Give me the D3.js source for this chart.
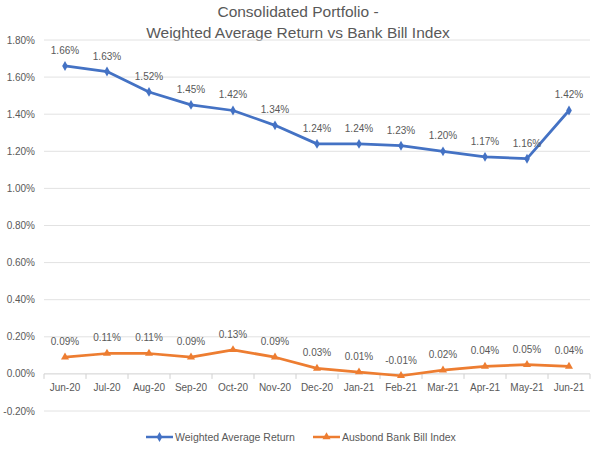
<!DOCTYPE html>
<html>
<head>
<meta charset="utf-8">
<script src="https://cdn.jsdelivr.net/npm/d3@7"></script>
<style>
  body { margin: 0; background: #fff; }
  text { font-family: "Liberation Sans", Arial, sans-serif; fill: #595959; }
</style>
</head>
<body>
<svg id="chart" width="605" height="449"></svg>
<script>
// Chart data
const months = ["Jun-20", "Jul-20", "Aug-20", "Sep-20", "Oct-20", "Nov-20", "Dec-20",
                "Jan-21", "Feb-21", "Mar-21", "Apr-21", "May-21", "Jun-21"];
const weightedReturn = [1.66, 1.63, 1.52, 1.45, 1.42, 1.34, 1.24, 1.24, 1.23, 1.20, 1.17, 1.16, 1.42];
const bankBill = [0.09, 0.11, 0.11, 0.09, 0.13, 0.09, 0.03, 0.01, -0.01, 0.02, 0.04, 0.05, 0.04];
const yTicks = [-0.2, 0, 0.2, 0.4, 0.6, 0.8, 1.0, 1.2, 1.4, 1.6, 1.8];
const titleLines = ["Consolidated Portfolio -", "Weighted Average Return vs Bank Bill Index"];
const seriesNames = ["Weighted Average Return", "Ausbond Bank Bill Index"];

const svg = d3.select("#chart");
const margin = {left: 44, right: 15, top: 40, bottom: 38};
const width = 605, height = 449;

const x = d3.scaleBand()
    .domain(months)
    .range([margin.left, width - margin.right]);

const y = d3.scaleLinear()
    .domain([-0.2, 1.8])
    .range([height - margin.bottom, margin.top]);

const fmt = v => v.toFixed(2) + "%";

// Title
svg.selectAll(".title")
    .data(titleLines)
    .enter().append("text")
    .attr("class", "title")
    .attr("x", 298)
    .attr("y", (d, i) => 17 + i * 21)
    .attr("text-anchor", "middle")
    .style("font-size", "15.5px")
    .text(d => d);

// Gridlines
svg.append("g")
    .selectAll("line")
    .data(yTicks)
    .enter().append("line")
    .attr("x1", margin.left)
    .attr("x2", width - margin.right)
    .attr("y1", d => y(d))
    .attr("y2", d => y(d))
    .attr("stroke", d => d === 0 ? "#d0d0d0" : "#e2e2e2")
    .attr("stroke-width", 1);

// Y axis labels
svg.append("g")
    .selectAll("text")
    .data(yTicks)
    .enter().append("text")
    .attr("x", 35)
    .attr("y", d => y(d) + 3.5)
    .attr("text-anchor", "end")
    .style("font-size", "10px")
    .text(d => fmt(d));

// X axis at zero with small ticks between categories
const xAxis = d3.axisBottom(x).tickSize(0).tickPadding(10);
const gx = svg.append("g")
    .attr("transform", `translate(0,${y(0)})`)
    .call(xAxis);
gx.select(".domain").remove();
gx.selectAll("text")
    .style("font-size", "10px")
    .style("font-family", "'Liberation Sans', Arial, sans-serif")
    .attr("fill", "#595959");

const bounds = months.map(m => x(m)).concat([x(months[months.length - 1]) + x.bandwidth()]);
svg.append("g")
    .selectAll("line")
    .data(bounds)
    .enter().append("line")
    .attr("x1", d => d).attr("x2", d => d)
    .attr("y1", y(0)).attr("y2", y(0) + 5)
    .attr("stroke", "#d0d0d0");

const cx = m => x(m) + x.bandwidth() / 2;

const line = d3.line()
    .x((d, i) => cx(months[i]))
    .y(d => y(d));

const series = [
    {values: weightedReturn, color: "#4472C4", marker: d3.symbolDiamond, size: 28},
    {values: bankBill, color: "#ED7D31", marker: d3.symbolTriangle, size: 28}
];

series.forEach(s => {
    svg.append("path")
        .datum(s.values)
        .attr("fill", "none")
        .attr("stroke", s.color)
        .attr("stroke-width", 2.75)
        .attr("stroke-linejoin", "round")
        .attr("d", line);

    svg.append("g")
        .selectAll("path")
        .data(s.values)
        .enter().append("path")
        .attr("d", d3.symbol().type(s.marker).size(s.size))
        .attr("transform", (d, i) => `translate(${cx(months[i])},${y(d)})`)
        .attr("fill", s.color);

    svg.append("g")
        .selectAll("text")
        .data(s.values)
        .enter().append("text")
        .attr("x", (d, i) => cx(months[i]))
        .attr("y", d => y(d) - 12)
        .attr("text-anchor", "middle")
        .style("font-size", "10px")
        .text(d => fmt(d));
});

// Legend
const legend = svg.append("g");
const legendX = [146, 313];
seriesNames.forEach((name, i) => {
    const s = series[i];
    const lx = legendX[i], ly = 437;
    legend.append("line")
        .attr("x1", lx).attr("x2", lx + 27)
        .attr("y1", ly).attr("y2", ly)
        .attr("stroke", s.color)
        .attr("stroke-width", 2.5);
    legend.append("path")
        .attr("d", d3.symbol().type(s.marker).size(s.size))
        .attr("transform", `translate(${lx + 13.5},${ly})`)
        .attr("fill", s.color);
    legend.append("text")
        .attr("x", lx + 29)
        .attr("y", ly + 4)
        .style("font-size", "10.5px")
        .text(name);
});
</script>
</body>
</html>
